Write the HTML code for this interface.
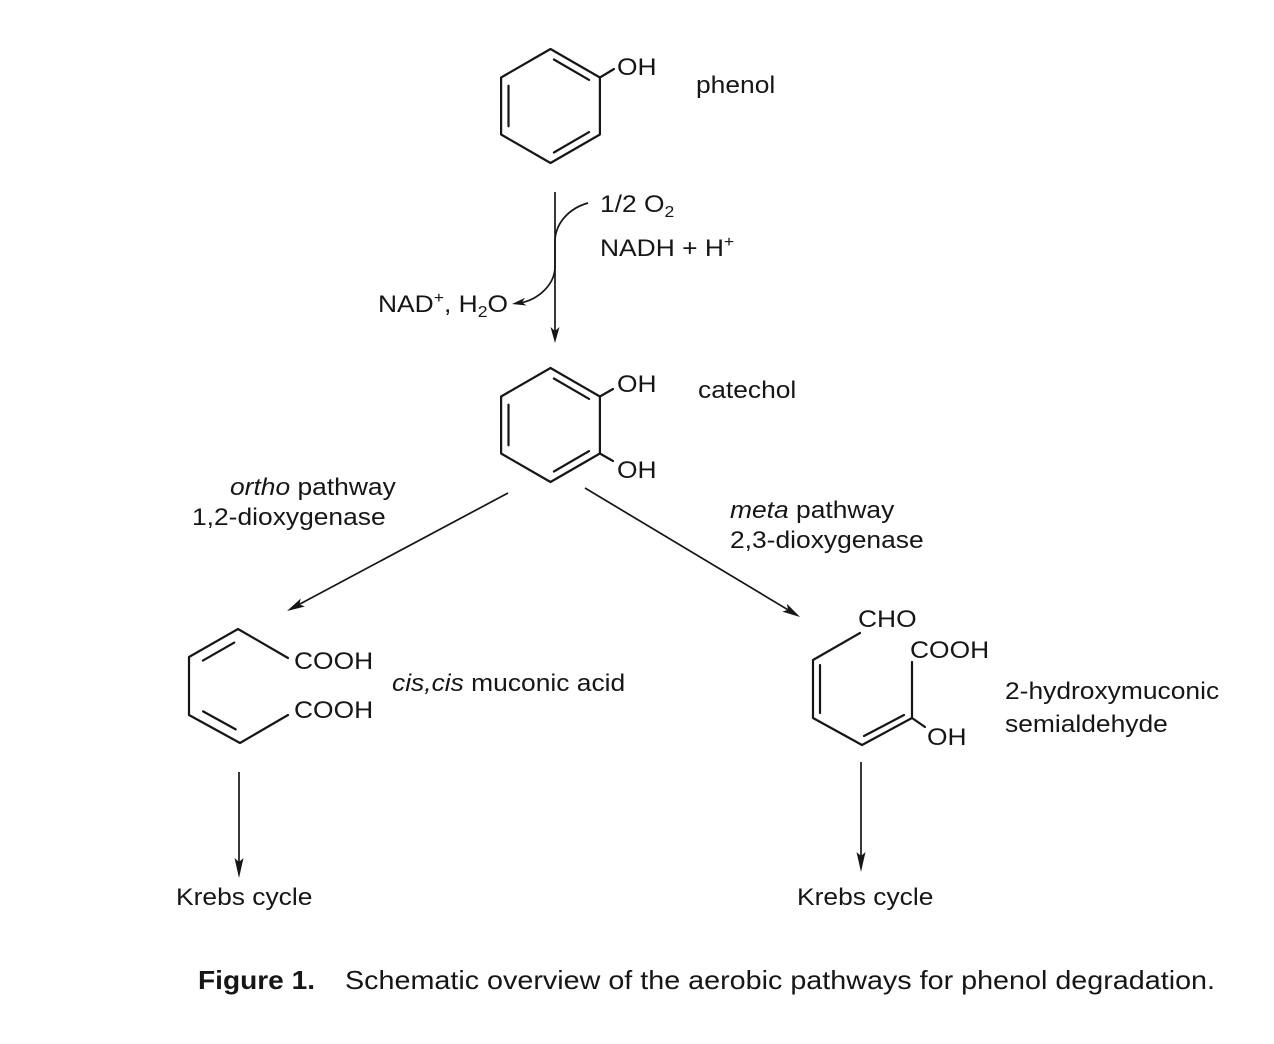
<!DOCTYPE html>
<html>
<head>
<meta charset="utf-8">
<style>
  html, body { margin: 0; padding: 0; background: #ffffff; }
  svg { display: block; }
  text { font-family: "Liberation Sans", Arial, sans-serif; fill: #161616; }
</style>
</head>
<body>
<svg width="1274" height="1044" viewBox="0 0 1274 1044" xmlns="http://www.w3.org/2000/svg">
  <rect width="1274" height="1044" fill="#ffffff"/>

  <!-- ===== Phenol ===== -->
  <g stroke="#161616" stroke-width="2.2" fill="none" stroke-linejoin="round" stroke-linecap="round">
    <polygon points="550.5,49 599.9,77.5 599.9,134.5 550.5,163 501.1,134.5 501.1,77.5"/>
    <line x1="553.9" y1="59.5" x2="589.1" y2="79.9"/>
    <line x1="589.1" y1="132.1" x2="553.9" y2="152.5"/>
    <line x1="508.5" y1="126.3" x2="508.5" y2="85.7"/>
    <line x1="599.9" y1="77.5" x2="614" y2="69"/>
  </g>
  <text font-size="24" transform="translate(617,75) scale(1.1,1)">OH</text>
  <text font-size="24" transform="translate(696,93) scale(1.1,1)">phenol</text>

  <!-- ===== Main vertical arrow with side curve ===== -->
  <g stroke="#161616" stroke-width="1.7" fill="none">
    <line x1="555" y1="192" x2="555" y2="334"/>
    <path d="M588,203 C570,208 556,222 555,240 L555,268 C554,286 537,300 520,303"/>
  </g>
  <polygon points="555,343 550.5,327 555,331 559.5,327" fill="#161616"/>
  <polygon points="512,304 525.1,297.7 521.9,302.3 526.5,305.5" fill="#161616"/>

  <text font-size="24" transform="translate(600,212) scale(1.1,1)">1/2 O<tspan font-size="16" dy="5">2</tspan></text>
  <text font-size="24" transform="translate(600,256) scale(1.1,1)">NADH + H<tspan font-size="16" dy="-9">+</tspan></text>
  <text font-size="24" transform="translate(378,312) scale(1.1,1)">NAD<tspan font-size="16" dy="-9">+</tspan><tspan dy="9">, H</tspan><tspan font-size="16" dy="5">2</tspan><tspan dy="-5">O</tspan></text>

  <!-- ===== Catechol ===== -->
  <g stroke="#161616" stroke-width="2.2" fill="none" stroke-linejoin="round" stroke-linecap="round">
    <polygon points="550.5,368 599.9,396.5 599.9,453.5 550.5,482 501.1,453.5 501.1,396.5"/>
    <line x1="553.9" y1="378.5" x2="589.1" y2="398.9"/>
    <line x1="589.1" y1="451.1" x2="553.9" y2="471.5"/>
    <line x1="508.5" y1="445.3" x2="508.5" y2="404.7"/>
    <line x1="599.9" y1="396.5" x2="613" y2="389"/>
    <line x1="599.9" y1="453.5" x2="613" y2="461"/>
  </g>
  <text font-size="24" transform="translate(617,392) scale(1.1,1)">OH</text>
  <text font-size="24" transform="translate(617,478) scale(1.1,1)">OH</text>
  <text font-size="24" transform="translate(698,398) scale(1.1,1)">catechol</text>

  <!-- ===== Ortho / meta arrows ===== -->
  <g stroke="#161616" stroke-width="1.7" fill="none">
    <line x1="508" y1="493" x2="299" y2="604.5"/>
    <line x1="585" y1="488" x2="788" y2="609.8"/>
  </g>
  <polygon points="287,611 305,606.5 299.3,604.4 300.8,598.5" fill="#161616"/>
  <polygon points="800,617 782.3,611.6 788,609.8 786.9,603.8" fill="#161616"/>

  <text font-size="24" transform="translate(230,495) scale(1.1,1)"><tspan font-style="italic">ortho</tspan> pathway</text>
  <text font-size="24" transform="translate(192,525) scale(1.1,1)">1,2-dioxygenase</text>
  <text font-size="24" transform="translate(730,518) scale(1.1,1)"><tspan font-style="italic">meta</tspan> pathway</text>
  <text font-size="24" transform="translate(730,548) scale(1.1,1)">2,3-dioxygenase</text>

  <!-- ===== cis,cis muconic acid ===== -->
  <g stroke="#161616" stroke-width="2.2" fill="none" stroke-linejoin="round" stroke-linecap="round">
    <polyline points="288,658 238,629 189,657 189,715 240,743 288,715"/>
    <line x1="202.9" y1="660.6" x2="234.3" y2="642.6"/>
    <line x1="203.1" y1="711.4" x2="235.7" y2="729.4"/>
  </g>
  <text font-size="24" transform="translate(294,669) scale(1.1,1)">COOH</text>
  <text font-size="24" transform="translate(294,718) scale(1.1,1)">COOH</text>
  <text font-size="24" transform="translate(392,691) scale(1.1,1)"><tspan font-style="italic">cis,cis</tspan> muconic acid</text>

  <!-- ===== 2-hydroxymuconic semialdehyde ===== -->
  <g stroke="#161616" stroke-width="2.2" fill="none" stroke-linejoin="round" stroke-linecap="round">
    <polyline points="860,633 813,660 813,718 862,745 912,718 912,662"/>
    <line x1="820" y1="665" x2="820" y2="713"/>
    <line x1="864" y1="736" x2="904" y2="715"/>
    <line x1="912" y1="718" x2="925" y2="727"/>
  </g>
  <text font-size="24" transform="translate(858,627) scale(1.1,1)">CHO</text>
  <text font-size="24" transform="translate(910,658) scale(1.1,1)">COOH</text>
  <text font-size="24" transform="translate(927,745) scale(1.1,1)">OH</text>
  <text font-size="24" transform="translate(1005,699) scale(1.1,1)">2-hydroxymuconic</text>
  <text font-size="24" transform="translate(1005,732) scale(1.1,1)">semialdehyde</text>

  <!-- ===== Krebs arrows ===== -->
  <g stroke="#161616" stroke-width="1.7" fill="none">
    <line x1="239" y1="772" x2="239" y2="868"/>
    <line x1="861" y1="762" x2="861" y2="862"/>
  </g>
  <polygon points="239,878 234.5,858 239,862 243.5,858" fill="#161616"/>
  <polygon points="861,872 856.5,852 861,856 865.5,852" fill="#161616"/>
  <text font-size="24" transform="translate(176,905) scale(1.1,1)">Krebs cycle</text>
  <text font-size="24" transform="translate(797,905) scale(1.1,1)">Krebs cycle</text>

  <!-- ===== Caption ===== -->
  <text x="198" y="989" font-size="26" font-weight="bold" textLength="117" lengthAdjust="spacingAndGlyphs">Figure 1.</text>
  <text x="345" y="989" font-size="26" textLength="870" lengthAdjust="spacingAndGlyphs">Schematic overview of the aerobic pathways for phenol degradation.</text>
</svg>
</body>
</html>
